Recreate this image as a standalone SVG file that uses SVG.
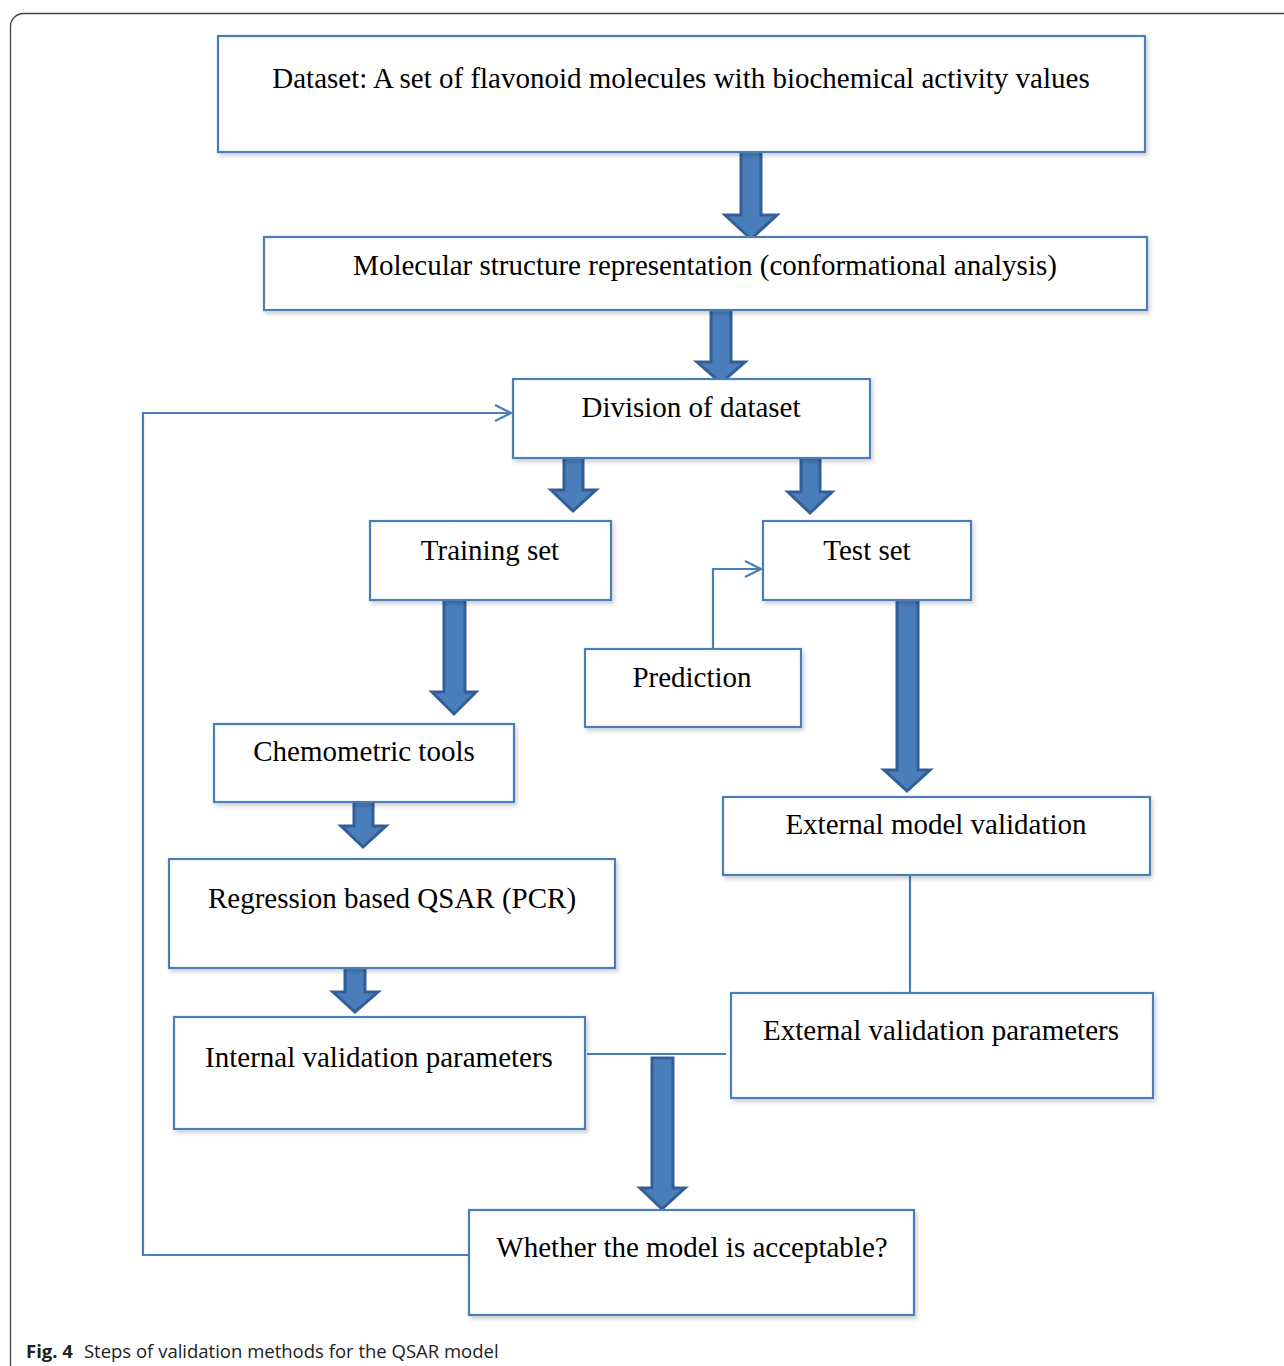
<svg xmlns="http://www.w3.org/2000/svg" width="1284" height="1366" viewBox="0 0 1284 1366">
<style>
.box{fill:#fff;stroke:#4a7ebb;stroke-width:2.2;filter:url(#sh)}
.t{font-family:"Liberation Serif","Times New Roman",serif;font-size:29px;fill:#000;text-anchor:middle}
.blk{fill:#4a7ebb;stroke:#345f96;stroke-width:3;stroke-linejoin:miter}
.ln{fill:none;stroke:#4a7ebb;stroke-width:2.2}
.cap{font-family:"Open Sans","Noto Sans",sans-serif;font-size:18.5px;fill:#222}
</style>
<defs>
<filter id="sh" x="-5%" y="-10%" width="115%" height="130%">
<feDropShadow dx="2" dy="3" stdDeviation="2" flood-color="#000" flood-opacity="0.18"/>
</filter>
<marker id="oa" viewBox="0 0 20 20" refX="18" refY="10" markerWidth="20" markerHeight="20" markerUnits="userSpaceOnUse" orient="auto">
<path d="M2,2 L18,10 L2,18" fill="none" stroke="#4a7ebb" stroke-width="2.2"/>
</marker>
</defs>
<rect x="10.5" y="13.5" width="1320" height="1420" rx="13" fill="#fff" stroke="#444" stroke-width="1.3"/>
<g id="connectors">
<polyline class="ln" points="469,1255 143,1255 143,413 511,413" marker-end="url(#oa)"/>
<polyline class="ln" points="713,649 713,569 761,569" marker-end="url(#oa)"/>
<line class="ln" x1="910" y1="875" x2="910" y2="993"/>
<line class="ln" x1="587" y1="1054" x2="726" y2="1054"/>
<polygon class="blk" points="741,150 761,150 761,215 777,215 751,239 725,215 741,215"/>
<polygon class="blk" points="711,308 731,308 731,362 745,362 721,383 697,362 711,362"/>
<polygon class="blk" points="564,456 583,456 583,490 596,490 573,511 551,490 564,490"/>
<polygon class="blk" points="801,458 820,458 820,492 832,492 810,513 788,492 801,492"/>
<polygon class="blk" points="444,600 465,600 465,692 476,692 454,714 432,692 444,692"/>
<polygon class="blk" points="897,598 918,598 918,770 930,770 907,791 884,770 897,770"/>
<polygon class="blk" points="354,790 373,790 373,826 386,826 363,847 341,826 354,826"/>
<polygon class="blk" points="345,956 365,956 365,992 378,992 355,1012 333,992 345,992"/>
<polygon class="blk" points="652,1058 673,1058 673,1188 685,1188 662,1209 640,1188 652,1188"/>
</g>
<g id="n1"><rect class="box" x="218" y="36" width="927" height="116"/><text class="t" x="681" y="88">Dataset: A set of flavonoid molecules with biochemical activity values</text></g>
<g id="n2"><rect class="box" x="264" y="237" width="883" height="73"/><text class="t" x="705" y="275">Molecular structure representation (conformational analysis)</text></g>
<g id="n3"><rect class="box" x="513" y="379" width="357" height="79"/><text class="t" x="691" y="417">Division of dataset</text></g>
<g id="n4"><rect class="box" x="370" y="521" width="241" height="79"/><text class="t" x="490" y="560">Training set</text></g>
<g id="n5"><rect class="box" x="763" y="521" width="208" height="79"/><text class="t" x="867" y="560">Test set</text></g>
<g id="n6"><rect class="box" x="585" y="649" width="216" height="78"/><text class="t" x="692" y="687">Prediction</text></g>
<g id="n7"><rect class="box" x="214" y="724" width="300" height="78"/><text class="t" x="364" y="761">Chemometric tools</text></g>
<g id="n8"><rect class="box" x="723" y="797" width="427" height="78"/><text class="t" x="936" y="834">External model validation</text></g>
<g id="n9"><rect class="box" x="169" y="859" width="446" height="109"/><text class="t" x="392" y="908">Regression based QSAR (PCR)</text></g>
<g id="n10"><rect class="box" x="731" y="993" width="422" height="105"/><text class="t" x="941" y="1040">External validation parameters</text></g>
<g id="n11"><rect class="box" x="174" y="1017" width="411" height="112"/><text class="t" x="379" y="1067">Internal validation parameters</text></g>
<g id="n12"><rect class="box" x="469" y="1210" width="445" height="105"/><text class="t" x="692" y="1257">Whether the model is acceptable?</text></g>
<text class="cap" x="26" y="1358"><tspan font-weight="bold">Fig. 4</tspan><tspan dx="11">Steps of validation methods for the QSAR model</tspan></text>
</svg>
